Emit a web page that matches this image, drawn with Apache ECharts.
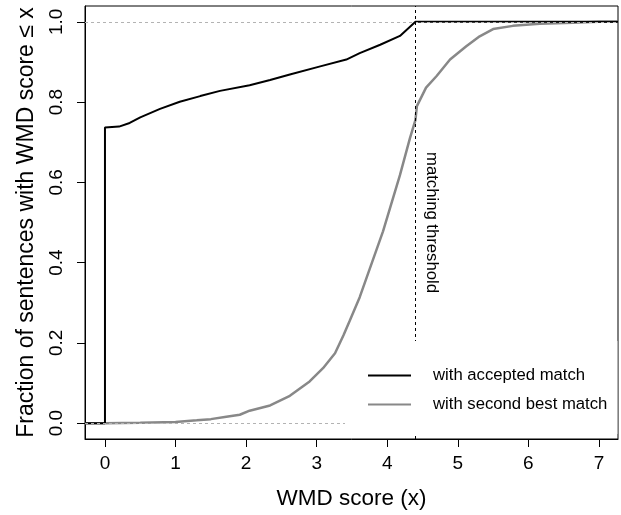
<!DOCTYPE html>
<html>
<head>
<meta charset="utf-8">
<script src="https://cdn.jsdelivr.net/npm/echarts@6/dist/echarts.min.js"></script>
<style>
html,body{margin:0;padding:0;background:#fff;}
#chart{width:621px;height:515px;}
</style>
</head>
<body>
<div id="chart"></div>
<script>
// ---- data ----
const xRange = [-0.283, 7.27];
const yRange = [-0.0395, 1.0395];
const xTicks = [0, 1, 2, 3, 4, 5, 6, 7];
const yTicks = [0, 0.2, 0.4, 0.6, 0.8, 1.0];
const threshold = 4.4;
const seriesNames = ['with accepted match', 'with second best match'];
const acceptedX = [-0.283, 0, 0, 0.2, 0.35, 0.5, 0.78, 1.06, 1.35, 1.63, 2.05, 2.34, 2.62, 3.05, 3.42, 3.61, 3.9, 4.18, 4.4, 7.27];
const acceptedY = [0, 0, 0.737, 0.739, 0.748, 0.762, 0.783, 0.801, 0.815, 0.828, 0.842, 0.855, 0.869, 0.889, 0.906, 0.922, 0.943, 0.965, 1.0, 1.0];
const secondX = [-0.283, 0, 0.5, 1.0, 1.3, 1.5, 1.72, 1.91, 2.05, 2.34, 2.62, 2.9, 3.09, 3.26, 3.38, 3.47, 3.61, 3.94, 4.18, 4.32, 4.40, 4.42, 4.55, 4.7, 4.89, 5.12, 5.31, 5.5, 5.78, 6.16, 6.63, 7.0, 7.27];
const secondY = [0, 0, 0.001, 0.003, 0.007, 0.01, 0.016, 0.021, 0.031, 0.044, 0.068, 0.104, 0.137, 0.174, 0.219, 0.256, 0.314, 0.478, 0.618, 0.709, 0.756, 0.79, 0.836, 0.865, 0.906, 0.939, 0.964, 0.982, 0.99, 0.995, 0.998, 1.0, 1.0];
const refLines = [0, 1];

const FONT = 'Liberation Sans, Arial, Helvetica, sans-serif';
const zip = (xs, ys) => xs.map((x, i) => [x, ys[i]]);

const chart = echarts.init(document.getElementById('chart'), null, {renderer: 'canvas'});
const option = {
  animation: false,
  backgroundColor: '#fff',
  grid: {left: 85, right: 3, top: 6, bottom: 72, show: true, borderColor: '#000', borderWidth: 1, backgroundColor: 'transparent'},
  legend: {
    orient: 'vertical', left: 345, top: 341,
    padding: [26, 10, 21, 22],
    backgroundColor: '#fff',
    itemWidth: 43, itemHeight: 14, itemGap: 12,
    selectedMode: false, z: 10,
    itemStyle: {opacity: 0, color: 'rgba(0,0,0,0)', borderWidth: 0},
    textStyle: {fontFamily: FONT, fontSize: 16.7, color: '#000', padding: [0, 0, 0, 17]},
    data: seriesNames
  },
  xAxis: {
    type: 'value', min: xRange[0], max: xRange[1],
    name: 'WMD score (x)', nameLocation: 'middle', nameGap: 48,
    nameTextStyle: {fontFamily: FONT, fontSize: 22.5, color: '#000'},
    axisLine: {show: true, onZero: false, lineStyle: {color: '#000', width: 1}},
    axisTick: {show: true, length: 8, lineStyle: {color: '#000'}, customValues: xTicks},
    axisLabel: {fontFamily: FONT, fontSize: 19, color: '#000', margin: 15, customValues: xTicks, formatter: v => String(v)},
    splitLine: {show: false}
  },
  yAxis: {
    type: 'value', min: yRange[0], max: yRange[1],
    name: 'Fraction of sentences with WMD score \u2264 x', nameLocation: 'middle', nameGap: 47,
    nameTextStyle: {fontFamily: FONT, fontSize: 23, color: '#000'},
    axisLine: {show: true, onZero: false, lineStyle: {color: '#000', width: 1}},
    axisTick: {show: true, length: 8, lineStyle: {color: '#000'}, customValues: yTicks},
    axisLabel: {fontFamily: FONT, fontSize: 19, color: '#000', margin: 19, rotate: 90, customValues: yTicks, formatter: v => v.toFixed(1)},
    splitLine: {show: false}
  },
  series: [
    {
      name: seriesNames[1], type: 'line', data: zip(secondX, secondY),
      symbol: 'none', showSymbol: false, lineStyle: {color: '#888888', width: 2.5}, itemStyle: {color: '#888888'}, z: 2
    },
    {
      name: seriesNames[0], type: 'line', data: zip(acceptedX, acceptedY),
      symbol: 'none', showSymbol: false, lineStyle: {color: '#000', width: 2}, itemStyle: {color: '#000'}, z: 3,
      markLine: {
        silent: true, symbol: 'none', animation: false, label: {show: false},
        data: refLines.map(v => ({yAxis: v, lineStyle: {color: '#b3b3b3', width: 1, type: [3, 3]}}))
          .concat([{xAxis: threshold, lineStyle: {color: '#000', width: 1, type: [3, 3]}}])
      }
    }
  ]
};
chart.setOption(option);
const p = chart.convertToPixel({gridIndex: 0}, [threshold, 0.5]);
chart.setOption({
  graphic: [{
    type: 'text', x: p[0] + 16, y: p[1], rotation: -Math.PI / 2,
    style: {text: 'matching threshold', fontFamily: FONT, fontSize: 16.7, fill: '#000', align: 'center', verticalAlign: 'middle'}
  }]
});
</script>
</body>
</html>
